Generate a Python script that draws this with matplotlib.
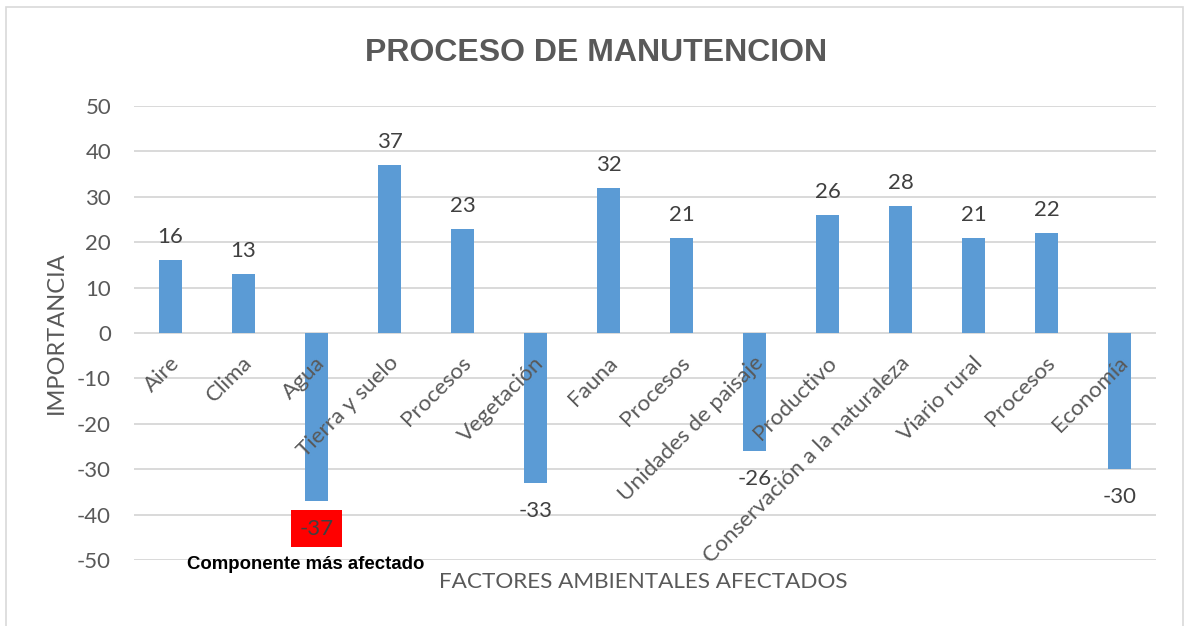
import numpy as np
import matplotlib
matplotlib.use("Agg")
import matplotlib.pyplot as plt
from matplotlib.patches import Rectangle

factores = ["Aire", "Clima", "Agua", "Tierra y suelo", "Procesos", "Vegetación",
            "Fauna", "Procesos", "Unidades de paisaje", "Productivo",
            "Conservación a la naturaleza", "Viario rural", "Procesos", "Economía"]
importancia = [16, 13, -37, 37, 23, -33, 32, 21, -26, 26, 28, 21, 22, -30]
yticks = [-50, -40, -30, -20, -10, 0, 10, 20, 30, 40, 50]

W, H = 1184, 626
fig = plt.figure(figsize=(W / 100, H / 100), dpi=100)
ax = fig.add_axes([134 / W, 1 - 560 / H, (1156 - 134) / W, (560 - 106) / H])

gris = "#595959"
txt = "#404040"
azul = "#5B9BD5"
fnt = "Lato"

x = np.arange(len(factores))
ax.bar(x, importancia, width=0.315, color=azul, zorder=3)
ax.set_xlim(-0.5, len(factores) - 0.5)
ax.set_ylim(-50, 50)
ax.set_yticks(yticks)
ax.set_yticklabels([str(v) for v in yticks], fontfamily=fnt, fontsize=16, color=gris)
ax.tick_params(axis="y", length=0, pad=16.5)
ax.set_xticks([])
ax.grid(axis="y", color="#D9D9D9", linewidth=1.4, zorder=0)
for s in ax.spines.values():
    s.set_visible(False)

# etiquetas de categoria, sobre el eje 0
for i, lab in enumerate(factores):
    ax.text(i - 0.02, -4.3, lab, rotation=45, rotation_mode="anchor",
            ha="right", va="top", fontfamily=fnt, fontsize=16.2, color=gris, zorder=4)

# etiquetas de datos
imin = int(np.argmin(importancia))
for i, v in enumerate(importancia):
    off = 16.5 if v >= 0 else -20
    kw = {}
    if i == imin:
        kw["bbox"] = dict(boxstyle="square,pad=0.38", facecolor="#FF0000", edgecolor="none")
    ax.annotate(str(v), (i, v), xytext=(0, off), textcoords="offset points",
                ha="center", va="center", fontfamily=fnt, fontsize=16, color=txt,
                zorder=5, **kw)

ax.text(imin - 0.15, -51, "Componente más afectado", transform=ax.transData,
        ha="center", va="center", fontfamily="Liberation Sans", fontweight="bold",
        fontsize=13.4, color="black")

fig.text(596 / W, 1 - 53 / H, "PROCESO DE MANUTENCION", ha="center", va="center",
         fontfamily="Liberation Sans", fontweight="bold", fontsize=23, color=gris)
fig.text(643 / W, 1 - 582 / H, "FACTORES AMBIENTALES AFECTADOS", ha="center", va="center",
         fontfamily=fnt, fontsize=16.2, color=gris)
fig.text(56 / W, 1 - 333 / H, "IMPORTANCIA", ha="center", va="center", rotation=90,
         fontfamily=fnt, fontsize=17, color=gris)

fig.add_artist(Rectangle((6 / W, -0.05), (1183 - 6) / W, 1.05 - 7 / H,
                         transform=fig.transFigure, fill=False,
                         edgecolor="#D9D9D9", linewidth=1.2))

fig.savefig("out.png", dpi=100)
